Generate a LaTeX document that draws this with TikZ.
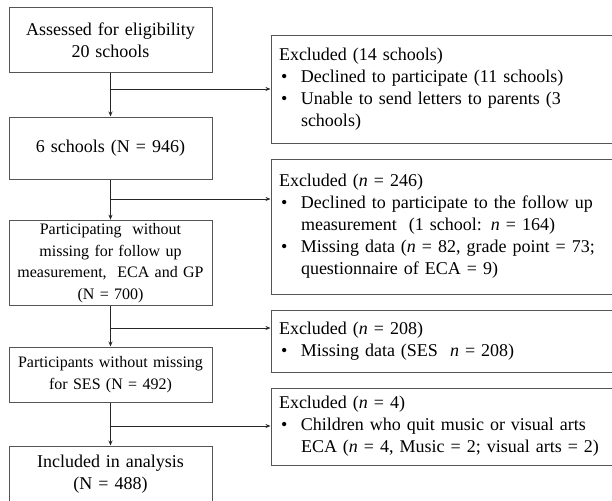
\documentclass[tikz,border=0pt]{standalone}
\usepackage{fontspec}
\setmainfont{Liberation Serif}
\usetikzlibrary{positioning,calc,arrows.meta}
\definecolor{frame}{RGB}{85,85,85}
\newcommand{\bul}{\hspace*{2pt}\makebox[20pt][l]{\textbullet}}
\newcommand{\hng}{\hspace*{22pt}}
\tikzset{
  leftbox/.style={draw=frame, line width=1pt, text width=190pt, inner xsep=6.5pt,
    align=center, font=\fontsize{18}{22}\selectfont},
  smallbox/.style={leftbox, font=\fontsize{16}{21.5}\selectfont},
  exclbox/.style={draw=frame, line width=1pt, text width=335pt, inner xsep=8pt,
    align=left, font=\fontsize{18}{22}\selectfont},
  flow/.style={-{Stealth[length=5pt,width=4pt]}, line width=0.8pt, black!85}
}

\begin{document}
\begin{tikzpicture}[x=1pt, y=-1pt]
        \clip (0,0) rectangle (612,500);

        % main column
        \node[leftbox, minimum height=65pt] (assess) at (110.5,40.5)
            {Assessed for eligibility\\20 schools};
        \node[leftbox, minimum height=62pt] (schools) at (110.5,148)
            {6 schools (N = 946)};
        \node[smallbox, minimum height=82pt] (follow) at (110.5,263)
            {Participating\ \ without\\missing for follow up\\measurement,\ \ ECA\ and\ GP\\(N = 700)};
        \node[smallbox, minimum height=55pt] (ses) at (110.5,374.5)
            {Participants\ without missing\\for SES (N = 492)};
        \node[leftbox, minimum height=56pt] (incl) at (110.5,474)
            {Included in analysis\\(N = 488)};

        % exclusions
        \node[exclbox, minimum height=107pt] (excl1) at (446.5,89.5)
            {Excluded (14 schools)\\
             \bul Declined to participate (11 schools)\\
             \bul Unable to send letters to parents (3\\
             \hng schools)};
        \node[exclbox, minimum height=135pt] (excl2) at (446.5,226.5)
            {Excluded (\textit{n} = 246)\\
             \bul Declined to participate to the follow up\\
             \hng measurement\ \ (1 school: \textit{n} = 164)\\
             \bul Missing data (\textit{n} = 82, grade point = 73;\\
             \hng questionnaire of ECA = 9)};
        \node[exclbox, minimum height=62pt] (excl3) at (446.5,341)
            {Excluded (\textit{n} = 208)\\
             \bul Missing\ data (SES\ \ \textit{n} = 208)};
        \node[exclbox, minimum height=77pt] (excl4) at (446.5,426.5)
            {Excluded (\textit{n} = 4)\\
             \bul Children who quit music or visual arts\\
             \hng ECA (\textit{n} = 4, Music = 2; visual arts = 2)};

        % branch points
        \coordinate (br1) at (110.5,89);
        \coordinate (br2) at (110.5,199);
        \coordinate (br3) at (110.5,328);
        \coordinate (br4) at (110.5,426);

        \draw[flow] (assess) -- (schools);
        \draw[flow] (schools) -- (follow);
        \draw[flow] (follow) -- (ses);
        \draw[flow] (ses) -- (incl);

        \draw[flow] (br1) -- (br1 -| excl1.west);
        \draw[flow] (br2) -- (br2 -| excl2.west);
        \draw[flow] (br3) -- (br3 -| excl3.west);
        \draw[flow] (br4) -- (br4 -| excl4.west);
\end{tikzpicture}
\end{document}
